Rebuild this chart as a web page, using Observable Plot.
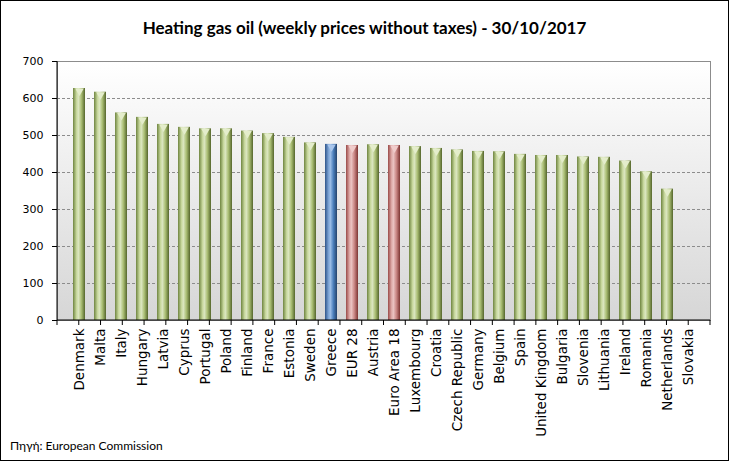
<!DOCTYPE html>
<html><head><meta charset="utf-8">
<script src="https://cdn.jsdelivr.net/npm/d3@7"></script>
<script src="https://cdn.jsdelivr.net/npm/@observablehq/plot@0.6"></script>
<style>
body{margin:0;background:#fff;}
#frame{width:727px;height:459px;border:1px solid #000;overflow:hidden;background:#fff;}
#title{height:48px;font:bold 17px Lato, sans-serif;line-height:54px;text-align:center;color:#000;}
#chart svg{display:block;}
#caption{padding-left:9px;font:12px Lato, "DejaVu Sans", sans-serif;line-height:18px;color:#000;}
</style>
</head><body>
<div id="frame">
<div id="title">Heating gas oil (weekly prices without taxes) - 30/10/2017</div>
<div id="chart"></div>
<div id="caption">Πηγή: European Commission</div>
</div>
<script>
const countries = ["Denmark","Malta","Italy","Hungary","Latvia","Cyprus","Portugal","Poland","Finland","France","Estonia","Sweden","Greece","EUR 28","Austria","Euro Area 18","Luxembourg","Croatia","Czech Republic","Germany","Belgium","Spain","United Kingdom","Bulgaria","Slovenia","Lithuania","Ireland","Romania","Netherlands","Slovakia"];
const prices = [627,617,561,549,530,522,518,518,512,505,495,480,476,473,475,473,470,465,461,457,456,449,446,446,442,441,431,402,355,null];
const groups = ["country","country","country","country","country","country","country","country","country","country","country","country","greece","average","country","average","country","country","country","country","country","country","country","country","country","country","country","country","country","country"];
const yTicks = [0,100,200,300,400,500,600,700];

const data = countries.map((c, i) => ({country: c, price: prices[i], group: groups[i]}));

const gradients = {
  country: ["#6f8540", "#c9d99f", "#dbe6c0", "#a9bd73", "#55662c"],
  greece: ["#2e5489", "#7ea5d6", "#9bbde6", "#4a7ebb", "#25436b"],
  average: ["#9a4a48", "#deaaa8", "#ebc3c2", "#c98684", "#7d3533"]
};
const caps = {country: "#e4edcb", greece: "#a9c6ec", average: "#f0cccb"};

const defsMark = () => {
  const g = d3.create("svg:g");
  const defs = g.append("defs");
  const bg = defs.append("linearGradient").attr("id", "bgGrad").attr("x1", 0).attr("x2", 0).attr("y1", 0).attr("y2", 1);
  bg.append("stop").attr("offset", "0%").attr("stop-color", "#ffffff");
  bg.append("stop").attr("offset", "100%").attr("stop-color", "#d6d6d6");
  for (const [k, cols] of Object.entries(gradients)) {
    const lg = defs.append("linearGradient").attr("id", "bar-" + k).attr("x1", 0).attr("x2", 1).attr("y1", 0).attr("y2", 0);
    const offs = [0, 0.3, 0.45, 0.7, 1];
    cols.forEach((c, i) => lg.append("stop").attr("offset", offs[i]).attr("stop-color", c));
  }
  return g.node();
};

const n = countries.length;
const axisLines = (index, scales, values, dim) => {
  const g = d3.create("svg:g");
  const x0 = dim.marginLeft, x1 = dim.width - dim.marginRight;
  const yTop = dim.marginTop, y0 = dim.height - dim.marginBottom;
  const step = (x1 - x0) / n;
  g.append("line").attr("x1", x0).attr("x2", x0).attr("y1", yTop).attr("y2", y0).attr("stroke", "#000");
  g.append("line").attr("x1", x0).attr("x2", x1).attr("y1", y0).attr("y2", y0).attr("stroke", "#000");
  for (let i = 0; i <= n; i++) {
    g.append("line").attr("x1", x0 + i * step).attr("x2", x0 + i * step)
      .attr("y1", y0).attr("y2", y0 + 5).attr("stroke", "#000");
  }
  return g.node();
};

const chart = Plot.plot({
  width: 727,
  height: 388,
  marginTop: 12,
  marginLeft: 56,
  marginRight: 18,
  marginBottom: 117,
  style: {fontFamily: "DejaVu Sans", fontSize: "11px", color: "#000", background: "transparent"},
  x: {domain: countries, padding: 0.44, paddingOuter: 0.22, label: null},
  y: {domain: [0, 700], ticks: yTicks, label: null},
  marks: [
    defsMark,
    Plot.frame({fill: "url(#bgGrad)", stroke: "#8c8c8c"}),
    Plot.gridY(yTicks.filter(d => d > 0 && d < 700), {stroke: "#8c8c8c", strokeOpacity: 1, strokeDasharray: "3,2"}),
    Plot.barY(data, {x: "country", y: "price", fill: d => `url(#bar-${d.group})`}),
    Plot.dot(data.filter(d => d.price != null), {x: "country", y: "price", symbol: "triangle", rotate: 180, r: 3.2, dy: 2.5, fill: d => caps[d.group], stroke: null}),
    Plot.axisY(yTicks, {tickSize: 5, tickPadding: 9, stroke: "#000", fontSize: 11}),
    Plot.axisX({tickSize: 0, tickRotate: -90, tickPadding: 8, fontSize: 13.5}),
    axisLines
  ]
});
const root = d3.select(chart);
root.selectAll("text").each(function() {
  const isX = countries.includes(this.textContent);
  this.setAttribute("font-size", isX ? "13.5" : "11");
  this.style.setProperty("font-size", isX ? "13.5px" : "11px", "important");
  this.style.setProperty("font-family", "'DejaVu Sans', Verdana, sans-serif", "important");
});
document.getElementById("chart").appendChild(chart);
</script>
</body></html>
